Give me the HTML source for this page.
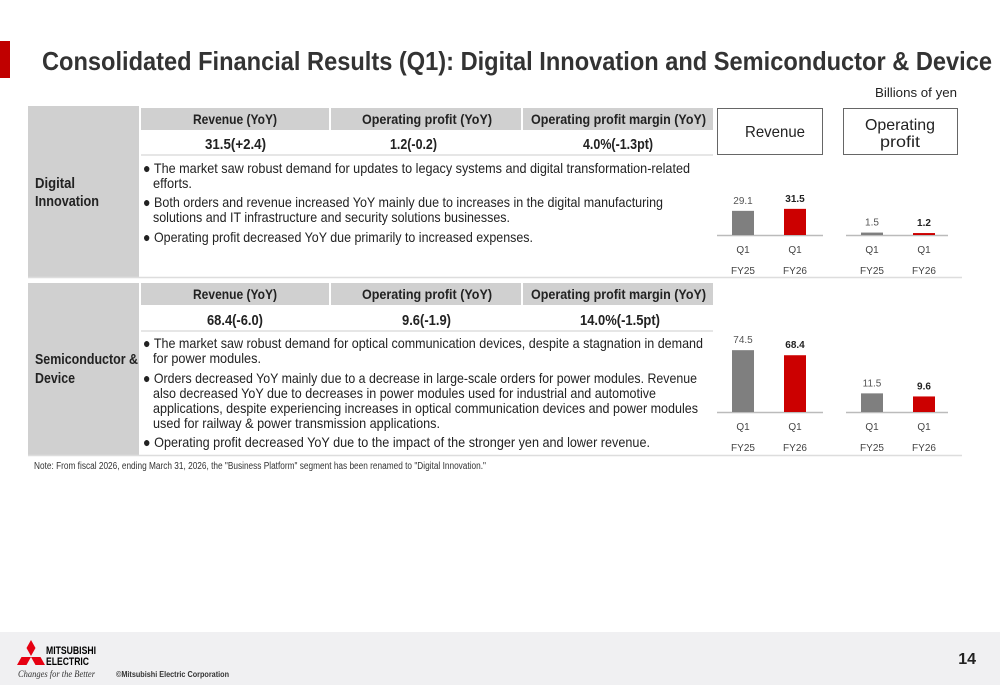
<!DOCTYPE html>
<html><head><meta charset="utf-8"><style>
body{margin:0;background:#fff}
svg{display:block;font-family:"Liberation Sans",sans-serif}
</style></head><body>
<svg id="s" width="1000" height="685" viewBox="0 0 1000 685">
<rect x="0" y="41" width="10" height="37" fill="#c00000"/>
<text x="42" y="70" font-size="26" font-weight="bold" fill="#333" textLength="950" lengthAdjust="spacingAndGlyphs">Consolidated Financial Results (Q1): Digital Innovation and Semiconductor &amp; Device</text>
<text x="957" y="97" font-size="13" text-anchor="end" fill="#222" textLength="82" lengthAdjust="spacingAndGlyphs">Billions of yen</text>

<!-- Digital section -->
<g>
<rect x="28" y="106" width="111" height="171" fill="#d0d0d0"/>
<text x="35" y="188" font-size="15" font-weight="bold" fill="#222" textLength="40" lengthAdjust="spacingAndGlyphs">Digital</text>
<text x="35" y="206" font-size="15" font-weight="bold" fill="#222" textLength="64" lengthAdjust="spacingAndGlyphs">Innovation</text>
<rect x="141" y="108" width="188" height="22" fill="#d0d0d0"/>
<rect x="331" y="108" width="190" height="22" fill="#d0d0d0"/>
<rect x="523" y="108" width="190" height="22" fill="#d0d0d0"/>
<text x="193" y="124" font-size="14" font-weight="bold" fill="#222" textLength="84" lengthAdjust="spacingAndGlyphs">Revenue (YoY)</text>
<text x="362" y="124" font-size="14" font-weight="bold" fill="#222" textLength="130" lengthAdjust="spacingAndGlyphs">Operating profit (YoY)</text>
<text x="531" y="124" font-size="14" font-weight="bold" fill="#222" textLength="175" lengthAdjust="spacingAndGlyphs">Operating profit margin (YoY)</text>
<text x="205" y="149" font-size="15" font-weight="bold" fill="#222" textLength="61" lengthAdjust="spacingAndGlyphs">31.5(+2.4)</text>
<text x="390" y="149" font-size="15" font-weight="bold" fill="#222" textLength="47" lengthAdjust="spacingAndGlyphs">1.2(-0.2)</text>
<text x="583" y="149" font-size="15" font-weight="bold" fill="#222" textLength="70" lengthAdjust="spacingAndGlyphs">4.0%(-1.3pt)</text>
<line x1="141" y1="155" x2="713" y2="155" stroke="#ddd" stroke-width="1.5"/>
<line x1="28" y1="277.5" x2="962" y2="277.5" stroke="#ddd" stroke-width="1.5"/>
<g font-size="14" fill="#222">
<text x="143" y="173" textLength="547" lengthAdjust="spacingAndGlyphs">● The market saw robust demand for updates to legacy systems and digital transformation-related</text>
<text x="153" y="188" textLength="39" lengthAdjust="spacingAndGlyphs">efforts.</text>
<text x="143" y="207" textLength="520" lengthAdjust="spacingAndGlyphs">● Both orders and revenue increased YoY mainly due to increases in the digital manufacturing</text>
<text x="153" y="222" textLength="357" lengthAdjust="spacingAndGlyphs">solutions and IT infrastructure and security solutions businesses.</text>
<text x="143" y="242" textLength="390" lengthAdjust="spacingAndGlyphs">● Operating profit decreased YoY due primarily to increased expenses.</text>
</g>
</g>

<!-- Semiconductor section -->
<g>
<rect x="28" y="283" width="111" height="172" fill="#d0d0d0"/>
<text x="35" y="364" font-size="15" font-weight="bold" fill="#222" textLength="103" lengthAdjust="spacingAndGlyphs">Semiconductor &amp;</text>
<text x="35" y="383" font-size="15" font-weight="bold" fill="#222" textLength="40" lengthAdjust="spacingAndGlyphs">Device</text>
<rect x="141" y="283" width="188" height="22" fill="#d0d0d0"/>
<rect x="331" y="283" width="190" height="22" fill="#d0d0d0"/>
<rect x="523" y="283" width="190" height="22" fill="#d0d0d0"/>
<text x="193" y="299" font-size="14" font-weight="bold" fill="#222" textLength="84" lengthAdjust="spacingAndGlyphs">Revenue (YoY)</text>
<text x="362" y="299" font-size="14" font-weight="bold" fill="#222" textLength="130" lengthAdjust="spacingAndGlyphs">Operating profit (YoY)</text>
<text x="531" y="299" font-size="14" font-weight="bold" fill="#222" textLength="175" lengthAdjust="spacingAndGlyphs">Operating profit margin (YoY)</text>
<text x="207" y="325" font-size="15" font-weight="bold" fill="#222" textLength="56" lengthAdjust="spacingAndGlyphs">68.4(-6.0)</text>
<text x="402" y="325" font-size="15" font-weight="bold" fill="#222" textLength="49" lengthAdjust="spacingAndGlyphs">9.6(-1.9)</text>
<text x="580" y="325" font-size="15" font-weight="bold" fill="#222" textLength="80" lengthAdjust="spacingAndGlyphs">14.0%(-1.5pt)</text>
<line x1="141" y1="331" x2="713" y2="331" stroke="#ddd" stroke-width="1.5"/>
<line x1="28" y1="455.5" x2="962" y2="455.5" stroke="#ddd" stroke-width="1.5"/>
<g font-size="14" fill="#222">
<text x="143" y="348" textLength="560" lengthAdjust="spacingAndGlyphs">● The market saw robust demand for optical communication devices, despite a stagnation in demand</text>
<text x="153" y="363" textLength="108" lengthAdjust="spacingAndGlyphs">for power modules.</text>
<text x="143" y="383" textLength="554" lengthAdjust="spacingAndGlyphs">● Orders decreased YoY mainly due to a decrease in large-scale orders for power modules. Revenue</text>
<text x="153" y="398" textLength="503" lengthAdjust="spacingAndGlyphs">also decreased YoY due to decreases in power modules used for industrial and automotive</text>
<text x="153" y="413" textLength="545" lengthAdjust="spacingAndGlyphs">applications, despite experiencing increases in optical communication devices and power modules</text>
<text x="153" y="428" textLength="287" lengthAdjust="spacingAndGlyphs">used for railway &amp; power transmission applications.</text>
<text x="143" y="447" textLength="507" lengthAdjust="spacingAndGlyphs">● Operating profit decreased YoY due to the impact of the stronger yen and lower revenue.</text>
</g>
</g>

<rect x="717.5" y="108.5" width="105" height="46" fill="#fff" stroke="#666"/>
<text x="745" y="137" font-size="16" fill="#222" textLength="60" lengthAdjust="spacingAndGlyphs">Revenue</text>
<rect x="843.5" y="108.5" width="114" height="46" fill="#fff" stroke="#666"/>
<text x="865" y="130" font-size="16" fill="#222" textLength="70" lengthAdjust="spacingAndGlyphs">Operating</text>
<text x="880" y="147" font-size="16" fill="#222" textLength="40" lengthAdjust="spacingAndGlyphs">profit</text>

<g id="charts"></g>

<text x="34" y="469" font-size="10" fill="#333" textLength="452" lengthAdjust="spacingAndGlyphs">Note: From fiscal 2026, ending March 31, 2026, the "Business Platform" segment has been renamed to "Digital Innovation."</text>

<rect x="0" y="632" width="1000" height="53" fill="#f0f0f2"/>
<g>
<polygon points="31,640 35.5,648 31,656 26.5,648" fill="#e60012"/>
<polygon points="31,657 26.5,665 17,665 21.5,657" fill="#e60012"/>
<polygon points="31,657 35.5,665 45,665 40.5,657" fill="#e60012"/>
<text x="46" y="654" font-size="11" font-weight="bold" fill="#000" textLength="50" lengthAdjust="spacingAndGlyphs">MITSUBISHI</text>
<text x="46" y="665" font-size="11" font-weight="bold" fill="#000" textLength="43" lengthAdjust="spacingAndGlyphs">ELECTRIC</text>
<text x="18" y="677" font-size="9" font-style="italic" fill="#333" font-family="Liberation Serif" textLength="77" lengthAdjust="spacingAndGlyphs">Changes for the Better</text>
</g>
<text x="116" y="677" font-size="8" font-weight="bold" fill="#333" textLength="113" lengthAdjust="spacingAndGlyphs">©Mitsubishi Electric Corporation</text>
<text x="976" y="664" font-size="16" font-weight="bold" text-anchor="end" fill="#222">14</text>
</svg>
<script>
const periods = ["Q1", "Q1"];
const years = ["FY25", "FY26"];
const digitalRevenue = [29.1, 31.5];
const digitalOpProfit = [1.5, 1.2];
const semiRevenue = [74.5, 68.4];
const semiOpProfit = [11.5, 9.6];
const revScale = 0.83, opScale = 1.62;
const NS = "http://www.w3.org/2000/svg";
const root = document.getElementById("charts");
function el(tag, attrs, parent){const e=document.createElementNS(NS,tag);for(const k in attrs)e.setAttribute(k,attrs[k]);parent.appendChild(e);return e;}
function chart(name, values, scale, axisX0, axisX1, barXs, baseline){
  const g = el("g", {}, root);
  
  
  const ax = el("line", {x1:axisX0, x2:axisX1, y1:baseline+0.5, y2:baseline+0.5, stroke:"#bbb", "stroke-width":1.5}, g);
  
  
  values.forEach((v, i) => {
    const h = v * scale;
    const b = el("rect", {x:barXs[i], y:baseline-h, width:22, height:h, fill: i===0 ? "#7f7f7f" : "#cc0000"}, g);
    
    
    const t = el("text", {x:barXs[i]+11, y:baseline-h-7, "font-size":10, "text-anchor":"middle", fill: i===0?"#555":"#222", "font-weight": i===0?"normal":"bold"}, g);
    t.textContent = v.toFixed(1);
    
    
    const q = el("text", {x:barXs[i]+11, y:baseline+18, "font-size":10, "text-anchor":"middle", fill:"#444"}, g);
    q.textContent = periods[i];
    
    
    const f = el("text", {x:barXs[i]+11, y:baseline+39, "font-size":10, "text-anchor":"middle", fill:"#444"}, g);
    f.textContent = years[i];
    
    
  });
}
chart("digital-revenue-chart", digitalRevenue, revScale, 717, 823, [732, 784], 235);
chart("digital-op-profit-chart", digitalOpProfit, opScale, 846, 948, [861, 913], 235);
chart("semi-revenue-chart", semiRevenue, revScale, 717, 823, [732, 784], 412);
chart("semi-op-profit-chart", semiOpProfit, opScale, 846, 948, [861, 913], 412);
</script>
</body></html>
